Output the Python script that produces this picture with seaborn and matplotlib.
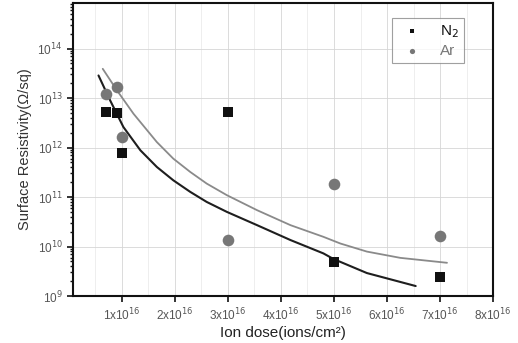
import numpy as np
import pandas as pd
import matplotlib
matplotlib.use("Agg")
import matplotlib.pyplot as plt
import seaborn as sns
from matplotlib.ticker import LogLocator, FixedLocator, NullFormatter

# measured points (dose in units of 1e16 ions/cm2)
n2_dose = [0.7, 0.9, 1.0, 3.0, 5.0, 7.0]
n2_res = [5.3e12, 5.0e12, 7.9e11, 5.3e12, 4.9e9, 2.45e9]

ar_dose = [0.7, 0.9, 1.0, 3.0, 5.0, 7.0]
ar_res = [1.2e13, 1.7e13, 1.65e12, 1.35e10, 1.8e11, 1.6e10]

# fitted curves
n2_fit_x = [0.56, 0.78, 1.03, 1.35, 1.66, 1.97, 2.29, 2.60, 2.98, 3.55, 4.18, 4.80, 4.99, 5.62, 6.54]
n2_fit_y = [2.86e13, 8.95e12, 2.59e12, 8.79e11, 4.05e11, 2.18e11, 1.27e11, 7.96e10, 5.01e10,
            2.70e10, 1.35e10, 7.26e9, 5.6e9, 2.91e9, 1.59e9]

ar_fit_x = [0.64, 0.91, 1.22, 1.66, 1.97, 2.29, 2.60, 2.98, 3.55, 4.18, 4.80, 5.12, 5.62, 6.25, 7.13]
ar_fit_y = [3.90e13, 1.42e13, 4.82e12, 1.29e12, 5.97e11, 3.21e11, 1.87e11, 1.09e11, 5.42e10,
            2.70e10, 1.57e10, 1.15e10, 7.9e9, 5.9e9, 4.69e9]

x_ticks = [1, 2, 3, 4, 5, 6, 7, 8]
y_ticks = [1e9, 1e10, 1e11, 1e12, 1e13, 1e14]

sns.set_style("white")
plt.rcParams['font.family'] = ['Liberation Sans', 'DejaVu Sans']

fig = plt.figure(figsize=(5.18, 3.43), dpi=100)
ax = fig.add_axes([0.141, 0.137, 0.811, 0.854])

ax.set_yscale('log')
ax.set_xlim(0.08, 8)
ax.set_ylim(1e9, 8.3e14)

# grid
ax.xaxis.set_minor_locator(FixedLocator(np.arange(0.5, 8, 1.0)))
ax.grid(which='major', color='#d6d6d6', lw=0.6)
ax.grid(which='minor', axis='x', color='#e8e8e8', lw=0.5)
ax.set_axisbelow(True)

# fit lines
sns.lineplot(x=ar_fit_x, y=ar_fit_y, ax=ax, color='#8a8a8a', lw=1.3, sort=False)
sns.lineplot(x=n2_fit_x, y=n2_fit_y, ax=ax, color='#1e1e1e', lw=1.5, sort=False)

# points
sns.scatterplot(x=n2_dose, y=n2_res, ax=ax, marker='s', s=62, color='#111111',
                edgecolor='#111111', linewidth=0, label='N$_2$', zorder=5)
sns.scatterplot(x=ar_dose, y=ar_res, ax=ax, marker='o', s=70, color='#777777',
                edgecolor='#777777', linewidth=0, label='Ar', zorder=5)

ax.set_xticks(x_ticks)
ax.set_xticklabels(['%dx10$^{16}$' % v for v in x_ticks], color='#555555', fontsize=8.5)
ax.set_yticks(y_ticks)
ax.set_yticklabels(['10$^{%d}$' % int(np.log10(v)) for v in y_ticks], color='#555555', fontsize=8.5)
ax.yaxis.set_minor_locator(LogLocator(base=10, subs=np.arange(2, 10), numticks=20))
ax.yaxis.set_minor_formatter(NullFormatter())

ax.tick_params(axis='both', which='major', direction='out', length=4, width=1.2,
               color='#111111', bottom=True, left=True)
ax.tick_params(axis='y', which='minor', direction='out', length=2.5, width=1.0,
               color='#111111', left=True)
ax.tick_params(axis='x', which='minor', length=0)

for sp in ax.spines.values():
    sp.set_color('#111111')
    sp.set_linewidth(1.5)

ax.set_xlabel('Ion dose(ions/cm²)', fontsize=11, color='#222222', labelpad=2)
ax.set_ylabel('Surface Resistivity(Ω/sq)', fontsize=10.5, color='#333333', labelpad=4)

leg = ax.legend(loc='upper right', bbox_to_anchor=(0.931, 0.95), borderaxespad=0,
                markerscale=0.45, fontsize=11, frameon=True, fancybox=False,
                handletextpad=0.8, borderpad=0.35, labelspacing=0.25, handlelength=2.0)
leg.get_frame().set_edgecolor('#888888')
leg.get_frame().set_linewidth(0.8)
for txt, c in zip(leg.get_texts(), ['#111111', '#777777']):
    txt.set_color(c)

fig.savefig('out.png', dpi=100)
